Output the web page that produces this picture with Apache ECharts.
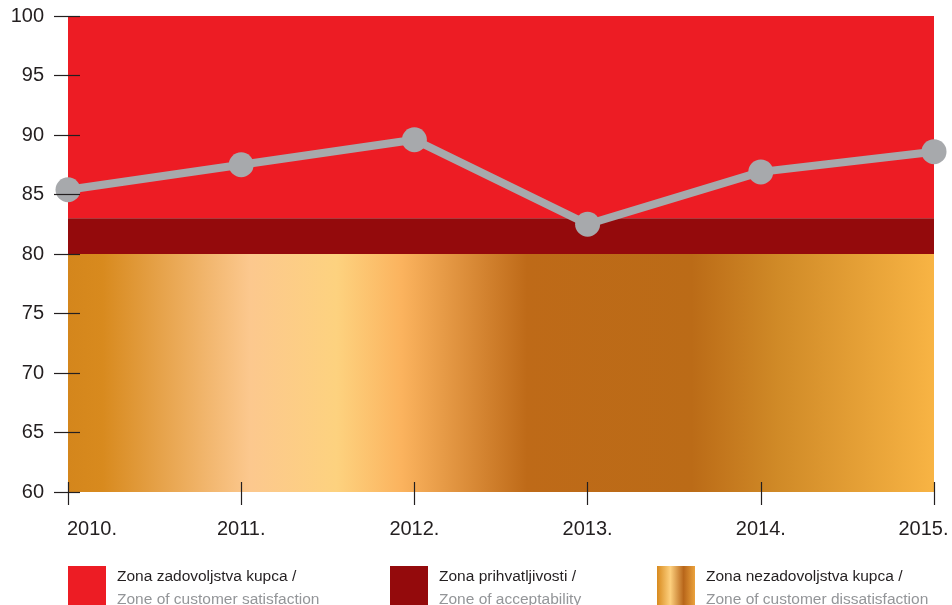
<!DOCTYPE html>
<html>
<head>
<meta charset="utf-8">
<script src="https://cdn.jsdelivr.net/npm/echarts@6/dist/echarts.min.js"></script>
<style>html,body{margin:0;padding:0;background:#fff}#c{width:952px;height:605px}</style>
</head>
<body>
<div id="c"></div>
<script>
const years = ['2010.', '2011.', '2012.', '2013.', '2014.', '2015.'];
const satisfaction = [85.4, 87.5, 89.6, 82.5, 86.9, 88.6];
const yTicks = [60, 65, 70, 75, 80, 85, 90, 95, 100];
const zoneNames = ['Zona zadovoljstva kupca /\nZone of customer satisfaction', 'Zona prihvatljivosti /\nZone of acceptability', 'Zona nezadovoljstva kupca /\nZone of customer dissatisfaction'];
const zoneBounds = [[83, 100], [80, 83], [60, 80]];

const FONT = 'Liberation Sans, Arial, sans-serif';
const goldBand = new echarts.graphic.LinearGradient(0, 0, 1, 0, [
  {offset: 0, color: '#D4861C'}, {offset: 0.04, color: '#D88A1E'},
  {offset: 0.21, color: '#FCC88E'}, {offset: 0.31, color: '#FDD27F'},
  {offset: 0.385, color: '#FBB35E'}, {offset: 0.53, color: '#BE6A18'},
  {offset: 0.72, color: '#BB6B17'}, {offset: 0.82, color: '#D08A27'},
  {offset: 1, color: '#F8B444'}
]);
const goldIcon = new echarts.graphic.LinearGradient(0, 0, 1, 0, [
  {offset: 0, color: '#D88A1E'}, {offset: 0.35, color: '#FDD07E'},
  {offset: 0.7, color: '#B8661A'}, {offset: 1, color: '#EBA23C'}
]);
const zoneColors = ['#ED1C24', '#940A0C', goldBand];
const iconColors = ['#ED1C24', '#940A0C', goldIcon];

const legendLeft = [68, 390, 657];
const legends = zoneNames.map((n, i) => ({
  data: [n], left: legendLeft[i], top: 566, padding: 0,
  icon: 'rect', itemWidth: 38, itemHeight: 40, selectedMode: false,
  formatter: (name) => { const p = name.split('\n'); return '{a|' + p[0] + '}\n{b|' + p[1] + '}'; },
  textStyle: {
    fontFamily: FONT, padding: [4, 0, 0, 6],
    rich: {
      a: {fontSize: 15.5, color: '#231F20', lineHeight: 23, fontFamily: FONT},
      b: {fontSize: 15.5, color: '#939598', lineHeight: 23, fontFamily: FONT}
    }
  }
}));

const lastIdx = years.length - 1;
const xLabel = {
  margin: 27, fontSize: 20, color: '#231F20', fontFamily: FONT,
  formatter: (v, i) => i === 0 ? '{f|' + v + '}' : (i === lastIdx ? '{l|' + v + '}' : '{n|' + v + '}'),
  rich: {
    f: {fontSize: 20, color: '#231F20', fontFamily: FONT, padding: [0, 0, 0, 48]},
    l: {fontSize: 20, color: '#231F20', fontFamily: FONT, padding: [0, 21, 0, 0]},
    n: {fontSize: 20, color: '#231F20', fontFamily: FONT}
  }
};

const option = {
  animation: false,
  backgroundColor: '#fff',
  grid: {left: 68, right: 18, top: 16, bottom: 113, containLabel: false},
  legend: legends,
  xAxis: [
    {type: 'category', data: years, boundaryGap: false, position: 'bottom',
     axisLine: {show: false}, splitLine: {show: false},
     axisTick: {show: true, length: 13, lineStyle: {color: '#231F20', width: 1.2}},
     axisLabel: xLabel, z: 10},
    {type: 'category', data: years, boundaryGap: false, position: 'bottom',
     axisLine: {show: false}, splitLine: {show: false},
     axisTick: {show: true, inside: true, length: 10, lineStyle: {color: '#231F20', width: 1.2}},
     axisLabel: {show: false}, z: 10}
  ],
  yAxis: [
    {type: 'value', min: yTicks[0], max: yTicks[yTicks.length - 1], interval: 5,
     axisLine: {show: false}, splitLine: {show: false},
     axisTick: {show: true, length: 14, lineStyle: {color: '#231F20', width: 1.2}},
     axisLabel: {margin: 24, fontSize: 20, color: '#231F20', fontFamily: FONT}, z: 10},
    {type: 'value', min: yTicks[0], max: yTicks[yTicks.length - 1], interval: 5, position: 'left',
     axisLine: {show: false}, splitLine: {show: false},
     axisTick: {show: true, inside: true, length: 12, lineStyle: {color: '#231F20', width: 1.2}},
     axisLabel: {show: false}, z: 10}
  ],
  series: zoneNames.map((n, i) => ({
    name: n, type: 'bar', data: [], itemStyle: {color: iconColors[i]},
    markArea: {silent: true, itemStyle: {color: zoneColors[i], opacity: 1},
      data: [[{yAxis: zoneBounds[i][0]}, {yAxis: zoneBounds[i][1]}]]}
  })).concat([{
    name: 'score', type: 'line', data: satisfaction, z: 5,
    symbol: 'circle', symbolSize: 25,
    lineStyle: {color: '#A7A9AC', width: 8},
    itemStyle: {color: '#A7A9AC'}
  }])
};

const chart = echarts.init(document.getElementById('c'), null, {renderer: 'canvas'});
chart.setOption(option);
</script>
</body>
</html>
